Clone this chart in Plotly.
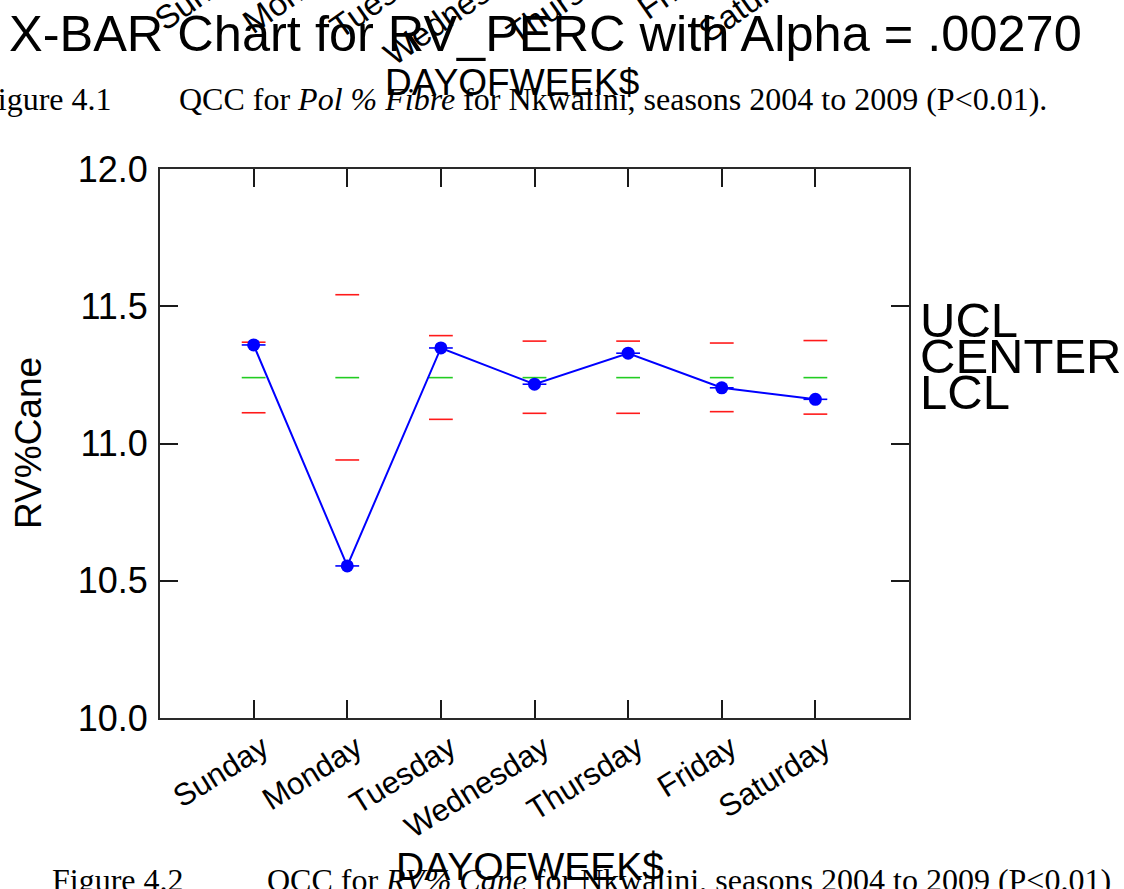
import plotly.graph_objects as go

# X-bar control chart of RV%Cane by day of week
days = ["Sunday", "Monday", "Tuesday", "Wednesday", "Thursday", "Friday", "Saturday"]
xbar = [11.359, 10.554, 11.348, 11.216, 11.329, 11.203, 11.161]
ucl = [11.369, 11.542, 11.393, 11.373, 11.373, 11.366, 11.375]
lcl = [11.112, 10.940, 11.088, 11.110, 11.110, 11.116, 11.107]
center = [11.24] * 7
y_ticks = [10.0, 10.5, 11.0, 11.5, 12.0]
top_day_labels = ["Sunday", "Monday", "Tuesday", "Wednesday", "Thursday", "Friday", "Saturday"]

W, H = 1124, 889
L, R, T, B = 160, 215, 169, 171
PW, PH = W - L - R, H - T - B
X_RANGE = [-1, 7]
UNIT = PW / (X_RANGE[1] - X_RANGE[0])
LABEL_SHIFT = 9 / UNIT  # day labels sit a little right of their tick


def px(x):
    return (x - L) / PW


def py(y):
    return (H - B - y) / PH


pos = list(range(len(days)))

fig = go.Figure()

# control limits as short dashes at each category
fig.add_trace(go.Scatter(x=pos, y=ucl, mode="markers", hoverinfo="skip",
                         marker=dict(symbol="line-ew", size=17, line=dict(color="#ff1a1a", width=1.6))))
fig.add_trace(go.Scatter(x=pos, y=lcl, mode="markers", hoverinfo="skip",
                         marker=dict(symbol="line-ew", size=17, line=dict(color="#ff1a1a", width=1.6))))
fig.add_trace(go.Scatter(x=pos, y=center, mode="markers", hoverinfo="skip",
                         marker=dict(symbol="line-ew", size=17, line=dict(color="#22cc22", width=1.6))))
# sample means
fig.add_trace(go.Scatter(x=pos, y=xbar, mode="markers", hoverinfo="skip",
                         marker=dict(symbol="line-ew", size=17, line=dict(color="#0000ff", width=1.6))))
fig.add_trace(go.Scatter(x=pos, y=xbar, mode="lines+markers",
                         line=dict(color="#0000ff", width=2),
                         marker=dict(color="#0000ff", size=13)))
# carrier for the day-label axis
fig.add_trace(go.Scatter(x=[None], y=[None], xaxis="x2", mode="markers", hoverinfo="skip"))

axis_common = dict(showline=True, linecolor="#2a2a2a", linewidth=2, mirror="ticks",
                   ticks="inside", ticklen=18, tickwidth=1.5, tickcolor="#1a1a1a",
                   showgrid=False, zeroline=False)

fig.update_layout(
    xaxis=dict(range=X_RANGE, tickmode="array", tickvals=pos, showticklabels=False, **axis_common),
    xaxis2=dict(range=[X_RANGE[0] - LABEL_SHIFT, X_RANGE[1] - LABEL_SHIFT], overlaying="x",
                anchor="y", side="bottom", tickmode="array", tickvals=pos, ticktext=days,
                tickangle=-32, ticks="", showline=False, showgrid=False, zeroline=False,
                tickfont=dict(family="Liberation Sans, Arial", size=31, color="black"),
                ticklabelstandoff=5),
    yaxis=dict(range=[10, 12], tickmode="array", tickvals=y_ticks,
               ticktext=[f"{v:.1f}" for v in y_ticks],
               tickfont=dict(family="Liberation Sans, Arial", size=36, color="black"),
               ticklabelstandoff=3, **axis_common),
)

sans = "Liberation Sans, Arial"
serif = "Liberation Serif, Times New Roman"
ann = []


def text(x, y, s, size, family=sans, xanchor="center", yanchor="middle", angle=0):
    ann.append(dict(xref="paper", yref="paper", x=px(x), y=py(y), text=s, showarrow=False,
                    xanchor=xanchor, yanchor=yanchor, textangle=angle,
                    font=dict(family=family, size=size, color="black")))


# header of the page: tail of the previous figure
for i, d in enumerate(top_day_labels):
    text(263 + 93.5 * i, -60, d, 33, xanchor="right", yanchor="top", angle=-35)
text(545, 34, "X-BAR Chart for RV_PERC with Alpha = .00270", 50.5)
text(-22, 99, "Figure 4.1", 32, family=serif, xanchor="left")
text(177, 99, "QCC for <i>Pol % Fibre</i> for Nkwalini, seasons 2004 to 2009 (P&lt;0.01).", 32,
     family=serif, xanchor="left")
text(512, 82, "DAYOFWEEK$", 37)

# this chart's labels
text(28, 443, "RV%Cane", 37, angle=-90)
text(918, 320, "UCL", 49, xanchor="left")
text(918, 356, "CENTER", 49, xanchor="left")
text(918, 392, "LCL", 49, xanchor="left")
text(50, 880, "Figure 4.2", 32, family=serif, xanchor="left")
text(265, 880, "QCC for <i>RV% Cane</i> for Nkwalini, seasons 2004 to 2009 (P&lt;0.01)", 32,
     family=serif, xanchor="left")
text(530, 866, "DAYOFWEEK$", 39)

fig.update_layout(width=W, height=H, margin=dict(l=L, r=R, t=T, b=B, autoexpand=False),
                  paper_bgcolor="white", plot_bgcolor="white", showlegend=False,
                  annotations=ann)

fig.write_html("out.html")
